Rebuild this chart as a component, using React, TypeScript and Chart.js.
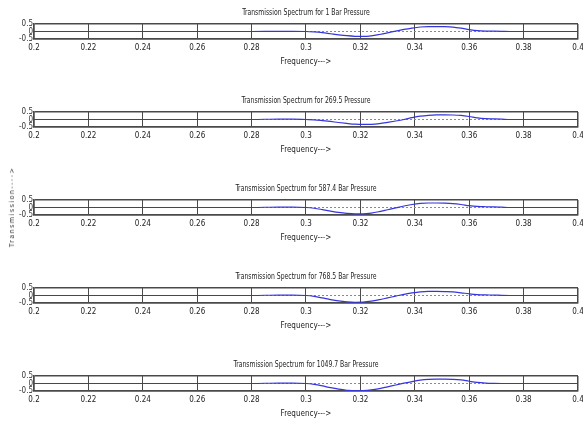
import React, { useEffect, useRef } from "react";
import { Chart, registerables } from "chart.js";

Chart.register(...registerables);

const FONT = "'Liberation Sans Narrow', 'DejaVu Sans Condensed', 'Arial Narrow', sans-serif";

const titles = [
  "Transmission Spectrum for 1 Bar Pressure",
  "Transmission Spectrum for 269.5 Pressure",
  "Transmission Spectrum for 587.4 Bar Pressure",
  "Transmission Spectrum for 768.5 Bar Pressure",
  "Transmission Spectrum for 1049.7 Bar Pressure",
];

const xAxisTitle = "Frequency--->";
const yAxisTitle = "Transmission---->";

const xMin = 0.2;
const xMax = 0.4;
const xStep = 0.02;
const yMin = -0.5;
const yMax = 0.5;
const yStep = 0.5;

const frequency = [
  0.2, 0.22, 0.24, 0.26, 0.28, 0.29, 0.295, 0.3,
  0.303, 0.306, 0.309, 0.312, 0.315, 0.318, 0.321, 0.324, 0.327, 0.33,
  0.333, 0.336, 0.339, 0.342, 0.345, 0.348, 0.351, 0.354, 0.357, 0.36,
  0.363, 0.366, 0.369, 0.372, 0.375, 0.38, 0.39, 0.4,
];

const series1Bar = [
  0, 0, 0, 0, 0, 0.01, 0.01, 0,
  -0.03, -0.08, -0.15, -0.22, -0.28, -0.32, -0.33, -0.29, -0.2, -0.09,
  0.03, 0.14, 0.23, 0.3, 0.33, 0.33, 0.32, 0.29, 0.22, 0.13,
  0.06, 0.03, 0.02, 0.01, 0, 0, 0, 0,
];
const series269 = [
  0, 0, 0, 0, 0, 0.03, 0.03, 0,
  -0.02, -0.07, -0.13, -0.2, -0.26, -0.31, -0.33, -0.32, -0.27, -0.19,
  -0.1, 0.0, 0.12, 0.22, 0.28, 0.31, 0.31, 0.3, 0.27, 0.2,
  0.11, 0.06, 0.04, 0.02, 0, 0, 0, 0,
];
const series587 = [
  0, 0, 0, 0, 0, 0.03, 0.03, 0,
  -0.05, -0.14, -0.24, -0.33, -0.39, -0.42, -0.42, -0.37, -0.27, -0.15,
  -0.03, 0.1, 0.2, 0.27, 0.3, 0.3, 0.29, 0.26, 0.2, 0.12,
  0.07, 0.05, 0.04, 0.02, 0, 0, 0, 0,
];
const series768 = [
  0, 0, 0, 0, 0, 0.03, 0.03, 0,
  -0.06, -0.16, -0.27, -0.36, -0.42, -0.45, -0.44, -0.38, -0.28, -0.16,
  -0.04, 0.08, 0.17, 0.24, 0.27, 0.27, 0.26, 0.24, 0.18, 0.11,
  0.06, 0.04, 0.03, 0.01, 0, 0, 0, 0,
];
const series1049 = [
  0, 0, 0, 0, 0, 0.03, 0.03, 0,
  -0.06, -0.16, -0.28, -0.38, -0.45, -0.49, -0.48, -0.43, -0.34, -0.22,
  -0.1, 0.02, 0.13, 0.22, 0.27, 0.29, 0.29, 0.28, 0.24, 0.15,
  0.07, 0.03, 0.01, 0, 0, 0, 0, 0,
];

const allSeries = [series1Bar, series269, series587, series768, series1049];

const W = 583;
const H = 88;

const fmt = (v: number) => String(Number(Number(v).toFixed(2)));

function SubPlot({ title, values, top }: { title: string; values: number[]; top: number }) {
  const ref = useRef<HTMLCanvasElement | null>(null);
  useEffect(() => {
    if (!ref.current) return;
    const titlePlugin = {
      id: "subplotTitle",
      afterDraw(chart: any) {
        const { ctx, chartArea } = chart;
        ctx.save();
        ctx.font = `8px ${FONT}`;
        ctx.fillStyle = "#222";
        ctx.textAlign = "center";
        ctx.textBaseline = "middle";
        ctx.translate((chartArea.left + chartArea.right) / 2, chartArea.top - 11);
        ctx.scale(0.85, 1);
        ctx.fillText(title, 0, 0);
        ctx.restore();
      },
    };
    const edgeX = (v: number) => Math.abs(v - xMin) < 1e-9 || Math.abs(v - xMax) < 1e-9;
    const chart = new Chart(ref.current, {
      type: "line",
      data: {
        datasets: [
          {
            data: frequency.map((f, i) => ({ x: f, y: values[i] })),
            borderColor: "#3535dd",
            borderWidth: 1.2,
            pointRadius: 0,
            tension: 0.4,
            cubicInterpolationMode: "monotone",
            fill: false,
          },
          {
            data: [
              { x: xMin, y: 0 },
              { x: xMax, y: 0 },
            ],
            borderColor: "#8a8a8a",
            borderWidth: 1,
            borderDash: [2, 2],
            pointRadius: 0,
            fill: false,
          },
        ],
      },
      options: {
        responsive: false,
        animation: false,
        layout: { padding: { top: 24, bottom: 19, left: 0, right: 5 } },
        plugins: { legend: { display: false }, tooltip: { enabled: false }, title: { display: false } },
        scales: {
          x: {
            type: "linear",
            min: xMin,
            max: xMax,
            afterFit: (s: any) => {
              s.height = 30;
              s.paddingLeft = 0;
              s.paddingRight = 0;
            },
            ticks: {
              stepSize: xStep,
              autoSkip: false,
              maxRotation: 0,
              padding: 4,
              color: "#222",
              font: { family: FONT, size: 8 },
              callback: (v: any) => fmt(v),
            },
            grid: {
              drawTicks: false,
              color: "#4a4a4a",
              lineWidth: (c: any) => (edgeX(c.tick.value) ? 1.5 : 1),
            },
            border: { display: true, color: "#4a4a4a", width: 1.5 },
            title: {
              display: true,
              text: xAxisTitle,
              color: "#222",
              font: { family: FONT, size: 8 },
              padding: { top: 0, bottom: 2 },
            },
          },
          y: {
            type: "linear",
            min: yMin,
            max: yMax,
            afterFit: (s: any) => {
              s.width = 34;
              s.paddingTop = 0;
              s.paddingBottom = 0;
            },
            ticks: {
              stepSize: yStep,
              autoSkip: false,
              padding: 1,
              color: "#333",
              font: { family: FONT, size: 8 },
              callback: (v: any) => fmt(v),
            },
            grid: {
              drawTicks: false,
              color: (c: any) => (Math.abs(c.tick.value) < 1e-9 ? "rgba(0,0,0,0)" : "#4a4a4a"),
              lineWidth: 1.5,
            },
            border: { display: true, color: "#4a4a4a", width: 1.5 },
          },
        },
      },
      plugins: [titlePlugin],
    } as any);
    return () => chart.destroy();
  }, [title, values]);
  return (
    <div style={{ position: "absolute", left: 0, top, width: W, height: H }}>
      <canvas ref={ref} width={W} height={H} style={{ display: "block", width: W, height: H }} />
    </div>
  );
}

export default function App() {
  return (
    <div
      style={{
        position: "fixed",
        left: 0,
        top: 0,
        width: W,
        height: 421,
        background: "#fff",
        overflow: "hidden",
      }}
    >
      {titles.map((t, i) => (
        <SubPlot key={i} title={t} values={allSeries[i]} top={i * H} />
      ))}
      <div
        style={{
          position: "absolute",
          left: 12,
          top: 207,
          transform: "translate(-50%, -50%) rotate(-90deg)",
          fontFamily: FONT,
          fontSize: 7,
          letterSpacing: "1.5px",
          whiteSpace: "nowrap",
          color: "#333",
        }}
      >
        {yAxisTitle}
      </div>
    </div>
  );
}
